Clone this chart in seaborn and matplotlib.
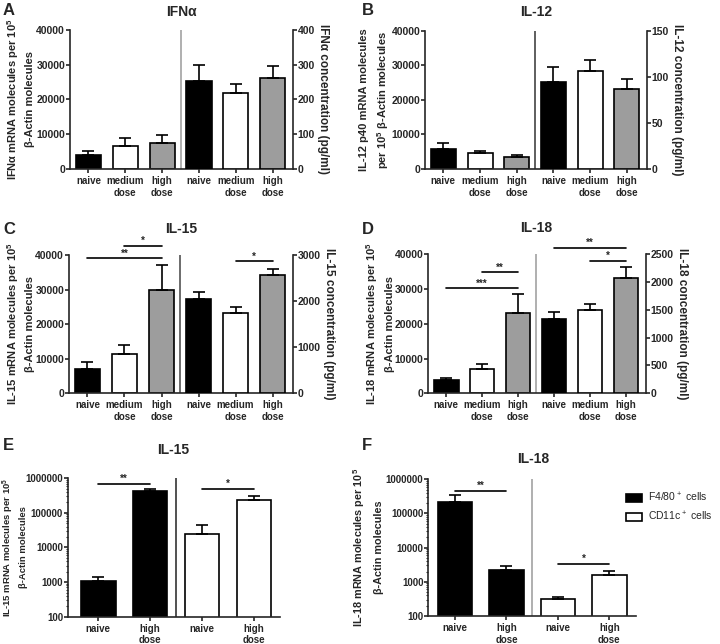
import numpy as np
import pandas as pd
import matplotlib.pyplot as plt
from matplotlib.patches import Patch
import seaborn as sns

doses = ["naive", "medium", "high"]
dose_labels = ["naive", "medium\ndose", "high\ndose"]
dose_colors = {"naive": "black", "medium": "white", "high": "#9d9d9d"}

# A - IFN alpha (mRNA left, protein right)
ifna_mrna = [3900, 6600, 7600]
ifna_mrna_sem = [1400, 2200, 2300]
ifna_prot = [252, 220, 262]
ifna_prot_sem = [46, 25, 33]

# B - IL-12
il12_mrna = [5800, 4700, 3400]
il12_mrna_sem = [1650, 600, 650]
il12_prot = [94.5, 106.5, 87]
il12_prot_sem = [16, 12, 11]

# C - IL-15
il15_mrna = [6900, 11500, 30000]
il15_mrna_sem = [2100, 2500, 7100]
il15_prot = [2050, 1735, 2555]
il15_prot_sem = [140, 130, 145]

# D - IL-18
il18_mrna = [3750, 6900, 23000]
il18_mrna_sem = [750, 1500, 5600]
il18_prot = [1340, 1500, 2080]
il18_prot_sem = [115, 110, 195]

# E/F - sorted cells
cells = ["F4/80", "CD11c"]
cell_colors = {"F4/80": "black", "CD11c": "white"}
cell_labels = ["F4/80$^+$ cells", "CD11c$^+$ cells"]
sort_labels = ["naive", "high\ndose", "naive", "high\ndose"]

il15_f480 = [1060, 427000]
il15_f480_sem = [330, 61000]
il15_cd11c = [24600, 229000]
il15_cd11c_sem = [21300, 82000]

il18_f480 = [219000, 2200]
il18_f480_sem = [121000, 750]
il18_cd11c = [308, 1580]
il18_cd11c_sem = [59, 520]

# significance brackets: (bar i, bar j, height, stars)
sig_c_left = [(1, 2, 42700, "*"), (0, 2, 39000, "**")]
sig_c_right = [(4, 5, 2860, "*")]
sig_d_left = [(1, 2, 34800, "**"), (0, 2, 30200, "***")]
sig_d_right = [(3, 5, 2619, "**"), (4, 5, 2374, "*")]
sig_e = [(0, 1, 6.8e5, "**"), (2, 3, 5.0e5, "*")]
sig_f = [(0, 1, 4.6e5, "**"), (2, 3, 3300, "*")]

sns.set_style("ticks")
plt.rcParams["font.family"] = ["Liberation Sans", "DejaVu Sans"]
plt.rcParams["font.weight"] = "bold"
plt.rcParams["axes.labelweight"] = "bold"
plt.rcParams["mathtext.default"] = "regular"
plt.rcParams["axes.linewidth"] = 1.2

fig = plt.figure(figsize=(7.2, 6.44), dpi=100)


def bars(ax, pos, vals, sems, keys, palette, width):
    df = pd.DataFrame({"pos": pos, "value": vals, "sem": sems, "key": keys})
    sns.barplot(data=df, x="pos", y="value", hue="key", palette=palette,
                native_scale=True, dodge=False, width=width, edgecolor="black",
                linewidth=1.2, errorbar=None, legend=False, ax=ax)
    ax.errorbar(df["pos"], df["value"], yerr=[np.zeros(len(df)), df["sem"]],
                fmt="none", ecolor="black", elinewidth=1.2, capsize=4, capthick=1.2)


def sig(ax, brackets):
    for i, j, y, stars in brackets:
        ax.plot([i, j], [y, y], color="black", lw=1.2, clip_on=False)
        ax.annotate(stars, xy=((i + j) / 2, y), xytext=(0, 0), textcoords="offset points",
                    ha="center", va="bottom", fontsize=7, annotation_clip=False)


def style_axis(ax, ysize=7.5):
    ax.tick_params(axis="y", which="major", direction="out", length=3, width=1.2,
                   labelsize=ysize, pad=0.5)
    ax.tick_params(axis="y", which="minor", direction="out", length=1.8, width=0.8)
    ax.tick_params(axis="x", direction="out", length=3, width=1.2, labelsize=7, pad=2)
    ax.set_xlabel("")


def dual_panel(rect, mrna, mrna_sem, prot, prot_sem, lmax, lstep, rmax, rstep,
               ylab_l, ylab_r, label_x, div_color, sig_l=(), sig_r=()):
    ax = fig.add_axes(rect)
    ax2 = ax.twinx()
    pos = np.arange(6)
    bars(ax, pos[:3], mrna, mrna_sem, doses, dose_colors, 0.68)
    bars(ax2, pos[3:], prot, prot_sem, doses, dose_colors, 0.68)
    ax.set_xlim(-0.5, 5.55)
    ax.set_ylim(0, lmax)
    ax.set_yticks(np.arange(0, lmax + 1, lstep))
    ax2.set_ylim(0, rmax)
    ax2.set_yticks(np.arange(0, rmax + 1, rstep))
    ax.set_xticks(pos)
    ax.set_xticklabels(dose_labels * 2)
    ax.axvline(2.5, color=div_color, lw=1.1)
    for s in ["top", "right"]:
        ax.spines[s].set_visible(False)
    for s in ["top", "left", "bottom"]:
        ax2.spines[s].set_visible(False)
    ax2.spines["right"].set_linewidth(1.2)
    style_axis(ax)
    style_axis(ax2)
    ax.set_ylabel(ylab_l, fontsize=8, linespacing=1.55)
    ax.yaxis.set_label_coords(label_x, 0.5)
    ax2.set_ylabel(ylab_r, fontsize=8.5, rotation=270, va="bottom", labelpad=1.5)
    sig(ax, sig_l)
    sig(ax2, sig_r)
    return ax


def sorted_panel(rect, f480, f480_sem, cd11c, cd11c_sem, ylab, label_size, spacing, label_x,
                 div_color, brackets, xlim):
    ax = fig.add_axes(rect)
    ax.set_yscale("log")
    pos = np.arange(4)
    bars(ax, pos, f480 + cd11c, f480_sem + cd11c_sem,
         [cells[0]] * 2 + [cells[1]] * 2, cell_colors, 0.67)
    ax.set_yscale("log")
    ax.set_ylim(100, 1e6)
    ticks = [100, 1000, 10000, 100000, 1000000]
    ax.set_yticks(ticks)
    ax.set_yticklabels([str(t) for t in ticks])
    ax.set_xlim(*xlim)
    ax.set_xticks(pos)
    ax.set_xticklabels(sort_labels)
    ax.axvline(1.5, color=div_color, lw=1.1)
    for s in ["top", "right"]:
        ax.spines[s].set_visible(False)
    style_axis(ax, ysize=7)
    ax.set_ylabel(ylab, fontsize=label_size, linespacing=spacing)
    ax.yaxis.set_label_coords(label_x, 0.5)
    sig(ax, brackets)
    return ax


dual_panel([0.0972, 0.7376, 0.3097, 0.2158], ifna_mrna, ifna_mrna_sem, ifna_prot, ifna_prot_sem,
           40000, 10000, 400, 100,
           "IFNα mRNA molecules per 10$^5$\nβ-Actin molecules", "IFNα concentration (pg/ml)",
           -0.157, "#9a9a9a")
dual_panel([0.5903, 0.7376, 0.3083, 0.2143], il12_mrna, il12_mrna_sem, il12_prot, il12_prot_sem,
           40000, 10000, 150, 50,
           "IL-12 p40 mRNA molecules\nper 10$^5$ β-Actin molecules", "IL-12 concentration (pg/ml)",
           -0.152, "#333333")
dual_panel([0.0958, 0.3893, 0.3110, 0.2148], il15_mrna, il15_mrna_sem, il15_prot, il15_prot_sem,
           40000, 10000, 3000, 1000,
           "IL-15 mRNA molecules per 10$^5$\nβ-Actin molecules", "IL-15 concentration (pg/ml)",
           -0.152, "#444444", sig_c_left, sig_c_right)
dual_panel([0.5949, 0.3893, 0.3019, 0.2158], il18_mrna, il18_mrna_sem, il18_prot, il18_prot_sem,
           40000, 10000, 2500, 500,
           "IL-18 mRNA molecules per 10$^5$\nβ-Actin molecules", "IL-18 concentration (pg/ml)",
           -0.155, "#9a9a9a", sig_d_left, sig_d_right)
sorted_panel([0.0944, 0.0424, 0.2944, 0.2149], il15_f480, il15_f480_sem, il15_cd11c, il15_cd11c_sem,
             "IL-15 mRNA molecules per 10$^5$\nβ-Actin molecules", 6.8, 1.4, -0.19,
             "#222222", sig_e, (-0.58, 3.5))
sorted_panel([0.5949, 0.0435, 0.2885, 0.2123], il18_f480, il18_f480_sem, il18_cd11c, il18_cd11c_sem,
             "IL-18 mRNA molecules per 10$^5$\nβ-Actin molecules", 7.8, 1.9, -0.213,
             "#9a9a9a", sig_f, (-0.52, 3.52))

# titles and panel letters
titles = [("IFNα", 0.252, 0.981), ("IL-12", 0.745, 0.981), ("IL-15", 0.252, 0.644),
          ("IL-18", 0.745, 0.646), ("IL-15", 0.240, 0.301), ("IL-18", 0.740, 0.287)]
for t, x, y in titles:
    fig.text(x, y, t, ha="center", va="center", fontsize=10, fontweight="bold")
letters = [("A", 0.004, 0.983), ("B", 0.502, 0.983), ("C", 0.004, 0.644),
           ("D", 0.502, 0.644), ("E", 0.004, 0.309), ("F", 0.502, 0.309)]
for t, x, y in letters:
    fig.text(x, y, t, ha="left", va="center", fontsize=12, fontweight="bold")

handles = [Patch(facecolor=cell_colors[c], edgecolor="black", linewidth=1.2) for c in cells]
fig.legend(handles, cell_labels, loc="center left", bbox_to_anchor=(0.870, 0.2127),
           frameon=False, prop={"weight": "normal", "size": 7.5}, handlelength=1.5,
           handleheight=0.75, handletextpad=0.6, labelspacing=0.55, borderpad=0, borderaxespad=0)

fig.savefig("out.png", dpi=100)
